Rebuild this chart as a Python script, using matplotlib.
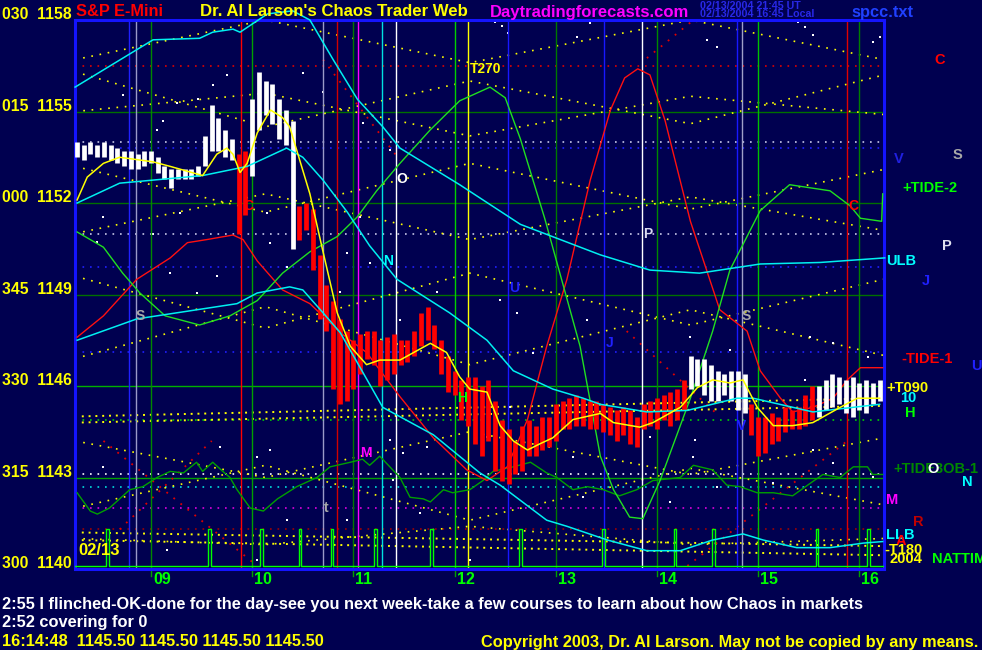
import numpy as np
import matplotlib.pyplot as plt
from matplotlib.transforms import blended_transform_factory

plt.rcParams['font.family'] = ['Liberation Sans', 'DejaVu Sans']
plt.rcParams['font.weight'] = 'bold'

W, H = 982, 650
BG = '#000050'

# ---- price bars: 4 minute bars starting 8:16 ----
bar_start = 8 + 16 / 60
bar_step = 4 / 60
bar_high = [1154.0, 1153.9, 1154.0, 1153.9, 1154.0, 1153.9, 1153.8, 1153.7, 1153.7, 1153.6,
            1153.7, 1153.7, 1153.5, 1153.2, 1153.1, 1153.1, 1153.1, 1153.1, 1153.2, 1154.2,
            1155.2, 1154.8, 1154.4, 1154.1, 1153.6, 1153.7, 1155.4, 1156.3, 1156.0, 1155.9,
            1155.4, 1155.05, 1154.7, 1151.9, 1152.0, 1151.8, 1150.3, 1149.3, 1148.8, 1148.2,
            1147.8, 1147.5, 1147.7, 1147.8, 1147.8, 1147.5, 1147.6, 1147.7, 1147.5, 1147.5,
            1147.8, 1148.4, 1148.6, 1148.0, 1147.5, 1147.0, 1146.5, 1146.2, 1146.3, 1146.3,
            1146.0, 1146.2, 1145.5, 1144.9, 1144.6, 1144.2, 1144.7, 1144.9, 1144.7, 1145.0,
            1145.0, 1145.4, 1145.5, 1145.6, 1145.7, 1145.6, 1145.5, 1145.5, 1145.4, 1145.3,
            1145.2, 1145.3, 1145.2, 1145.0, 1145.4, 1145.5, 1145.6, 1145.7, 1145.8, 1145.9,
            1146.2, 1147.0, 1146.9, 1146.9, 1146.7, 1146.5, 1146.4, 1146.5, 1146.5, 1146.4,
            1145.4, 1145.0, 1145.0, 1145.1, 1145.0, 1145.3, 1145.2, 1145.3, 1145.7, 1146.0,
            1146.0, 1146.2, 1146.4, 1146.3, 1146.2, 1146.3, 1146.1, 1146.2, 1146.1, 1146.2]
bar_low = [1153.5, 1153.4, 1153.6, 1153.5, 1153.5, 1153.4, 1153.3, 1153.2, 1153.1, 1153.1,
           1153.2, 1153.3, 1153.0, 1152.8, 1152.5, 1152.8, 1152.8, 1152.8, 1152.9, 1153.2,
           1153.7, 1153.7, 1153.5, 1153.4, 1151.0, 1151.6, 1152.9, 1154.4, 1154.9, 1154.6,
           1154.1, 1153.9, 1150.5, 1150.8, 1151.1, 1149.8, 1148.2, 1147.8, 1145.9, 1145.4,
           1145.5, 1145.9, 1146.4, 1146.9, 1146.7, 1146.0, 1146.2, 1146.4, 1146.7, 1146.8,
           1147.0, 1147.3, 1147.5, 1147.2, 1146.4, 1145.8, 1145.7, 1144.9, 1144.7, 1144.1,
           1143.7, 1144.2, 1143.2, 1142.9, 1142.8, 1143.1, 1143.2, 1143.7, 1143.7, 1143.9,
           1144.0, 1144.2, 1144.6, 1144.6, 1144.7, 1144.7, 1144.6, 1144.6, 1144.5, 1144.4,
           1144.2, 1144.4, 1144.1, 1144.0, 1144.6, 1144.7, 1144.6, 1144.9, 1144.7, 1144.9,
           1145.2, 1145.9, 1146.0, 1145.7, 1145.5, 1145.5, 1145.7, 1145.5, 1145.2, 1145.1,
           1144.4, 1143.7, 1143.8, 1144.1, 1144.2, 1144.5, 1144.6, 1144.6, 1144.7, 1144.9,
           1145.0, 1145.2, 1145.3, 1145.4, 1145.1, 1145.0, 1145.2, 1145.1, 1145.4, 1145.5]
bar_color = 'w' * 24 + 'rr' + 'w' * 7 + 'r' * 58 + 'w' * 9 + 'r' * 10 + 'w' * 10

# ---- moving average (yellow) ----
ma_x = [8.27, 8.37, 8.53, 8.69, 9.02, 9.19, 9.51, 9.65, 9.75, 9.81, 9.88, 9.95, 10.05, 10.18,
        10.30, 10.37, 10.47, 10.57, 10.70, 10.84, 10.97, 11.13, 11.26, 11.46, 11.76, 11.92,
        12.05, 12.15, 12.32, 12.45, 12.58, 12.72, 12.84, 12.97, 13.17, 13.44, 13.57, 13.83,
        13.96, 14.23, 14.40, 14.55, 14.72, 14.85, 14.99, 15.15, 15.34, 15.54, 15.81, 15.98, 16.20]
ma_y = [1152.1, 1152.85, 1153.3, 1153.5, 1153.35, 1153.2, 1152.9, 1153.6, 1153.8, 1153.6,
        1153.0, 1153.3, 1154.3, 1155.05, 1154.8, 1154.5, 1153.4, 1152.3, 1150.4, 1148.4,
        1147.3, 1146.7, 1146.85, 1146.85, 1147.4, 1147.1, 1146.3, 1145.9, 1145.8, 1144.7,
        1144.2, 1143.9, 1144.1, 1144.3, 1144.9, 1145.1, 1144.8, 1144.65, 1144.8, 1145.3,
        1145.95, 1146.2, 1146.1, 1146.2, 1145.3, 1144.7, 1144.7, 1144.8, 1145.3, 1145.6, 1145.6]

# ---- bands (cyan) ----
ulb_x = [8.25, 9.02, 9.48, 9.61, 9.81, 9.88, 10.15, 10.40, 10.57, 10.80, 11.04, 11.29, 11.46,
         12.05, 12.65, 13.44, 13.93, 14.42, 15.02, 15.61, 16.25]
ulb_y = [1155.8, 1157.35, 1157.4, 1157.6, 1157.7, 1157.6, 1158.2, 1158.3, 1158.0, 1156.7,
         1155.4, 1154.5, 1153.8, 1152.6, 1151.3, 1150.3, 1149.8, 1149.7, 1150.0, 1150.05, 1150.2]
mid_x = [8.27, 8.69, 9.51, 9.95, 10.34, 10.50, 10.70, 10.94, 11.16, 11.43, 11.95, 12.32, 12.58,
         12.97, 13.27, 13.44, 13.90, 14.30, 14.79, 14.95, 15.54, 16.20]
mid_y = [1152.0, 1152.65, 1152.9, 1153.2, 1153.8, 1153.5, 1152.75, 1151.7, 1150.6, 1149.5,
         1148.4, 1147.5, 1146.5, 1145.9, 1145.6, 1145.4, 1145.15, 1145.2, 1145.6, 1145.6,
         1145.15, 1145.4]
llb_x = [8.27, 8.86, 9.85, 10.05, 10.37, 10.50, 10.70, 10.87, 11.29, 11.79, 12.25, 12.45, 12.65,
         12.91, 13.11, 13.51, 13.90, 14.23, 14.55, 14.85, 15.05, 15.38, 15.71, 16.04, 16.23]
llb_y = [1147.5, 1148.2, 1148.7, 1149.05, 1149.25, 1149.15, 1148.4, 1147.75, 1145.3, 1144.4,
         1143.15, 1142.75, 1142.25, 1141.6, 1141.4, 1140.95, 1140.6, 1140.6, 1140.95, 1141.15,
         1140.95, 1140.7, 1140.7, 1140.85, 1140.9]

# ---- tides ----
tide1_x = [8.27, 8.53, 8.86, 9.19, 9.36, 9.55, 9.81, 9.91, 10.05, 10.30, 10.57, 10.87, 11.13,
           11.46, 11.79, 12.12, 12.32, 12.52, 12.72, 12.91, 13.11, 13.34, 13.54, 13.68, 13.81,
           13.93, 14.08, 14.33, 14.62, 14.89, 15.02, 15.22, 15.34, 15.54, 15.74, 15.88, 16.01, 16.23]
tide1_y = [1147.6, 1148.3, 1149.5, 1150.2, 1150.7, 1150.8, 1150.95, 1150.8, 1150.1, 1149.15,
           1148.7, 1147.75, 1147.1, 1145.65, 1144.3, 1143.25, 1142.9, 1143.35, 1144.9, 1147.3,
           1149.5, 1152.75, 1155.05, 1156.1, 1156.4, 1156.2, 1154.7, 1151.4, 1148.5, 1147.8,
           1146.5, 1145.6, 1145.15, 1145.3, 1145.6, 1146.2, 1146.6, 1146.6]
tide2_x = [8.27, 8.53, 8.72, 8.89, 9.14, 9.48, 9.78, 10.05, 10.30, 10.57, 10.84, 11.04, 11.23,
           11.46, 11.76, 12.05, 12.35, 12.50, 12.65, 12.89, 13.24, 13.44, 13.57, 13.73, 13.86,
           14.03, 14.33, 14.55, 14.72, 15.02, 15.31, 15.71, 15.91, 16.01, 16.22, 16.23]
tide2_y = [1151.05, 1150.55, 1149.7, 1149.05, 1148.3, 1148.0, 1148.3, 1148.8, 1149.7, 1150.4,
           1150.9, 1151.55, 1152.4, 1153.3, 1154.4, 1155.35, 1155.8, 1155.45, 1154.1, 1151.5,
           1147.3, 1143.7, 1142.6, 1141.7, 1141.65, 1142.9, 1145.6, 1147.8, 1149.8, 1151.75,
           1152.6, 1152.4, 1151.9, 1151.5, 1151.4, 1152.3]
tide3_x = [8.27, 8.40, 8.47, 8.59, 8.69, 8.79, 8.92, 9.06, 9.19, 9.32, 9.45, 9.51, 9.61, 9.71,
           9.78, 9.85, 9.98, 10.11, 10.25, 10.44, 10.64, 10.77, 10.97, 11.09, 11.16, 11.26,
           11.36, 11.46, 11.56, 11.69, 11.76, 11.89, 11.98, 12.15, 12.28, 12.38, 12.58, 12.75,
           12.91, 13.01, 13.17, 13.31, 13.47, 13.63, 13.80, 13.96, 14.23, 14.36, 14.55, 14.69,
           14.82, 14.99, 15.15, 15.34, 15.51, 15.64, 15.81, 15.94, 16.08, 16.13, 16.23]
tide3_y = [1142.5, 1141.9, 1141.8, 1142.0, 1142.3, 1142.6, 1142.7, 1143.0, 1143.2, 1143.15,
           1143.5, 1143.2, 1143.5, 1143.2, 1143.0, 1142.6, 1142.0, 1141.9, 1142.3, 1142.7,
           1143.0, 1143.35, 1143.5, 1143.6, 1143.4, 1143.7, 1143.35, 1143.0, 1142.35, 1142.3,
           1142.2, 1142.6, 1142.5, 1142.6, 1142.9, 1143.2, 1143.35, 1143.5, 1143.15, 1143.0,
           1142.6, 1142.7, 1142.6, 1142.4, 1142.6, 1142.9, 1143.0, 1143.4, 1143.25, 1142.75,
           1142.7, 1142.5, 1142.5, 1142.4, 1142.8, 1143.1, 1143.0, 1143.35, 1143.35, 1143.1, 1143.1]

# ---- nattime spikes ----
spike_hours = [8.57, 9.58, 10.09, 10.47, 10.79, 11.22, 11.77, 12.65, 13.47, 14.18, 14.56, 15.58, 16.09]
spike_base = 1140.1
spike_top = 1141.3

# ---- vertical event lines ----
vline_hours = [8.78, 8.85, 9.89, 10.70, 10.84, 11.05, 11.28, 11.42, 12.13, 12.53, 13.48, 13.85,
               14.79, 14.84, 15.88]
vline_colors = ['#2020ff', '#9a9ac8', '#ff0000', '#9a9ac8', '#d00000', '#ff00ff', '#00e0e0',
                '#ffffff', '#ffff00', '#1818ff', '#1818ff', '#ffffff', '#1818ff', '#a0a0c8', '#e00000']
hours = [9, 10, 11, 12, 13, 14, 15, 16]
hour_colors = ['#008800', '#00a000', '#007800', '#00d000', '#007800', '#008800', '#00c000', '#008000']

# ---- horizontal levels ----
grid_prices = [1155, 1152, 1149, 1146, 1143]
grid_colors = ['#007000', '#007000', '#007000', '#00b000', '#00a000']
hdot_prices = [1156.5, 1154.0, 1153.8, 1151.0, 1149.9, 1147.1, 1144.9, 1143.1, 1142.7, 1142.0, 1141.3]
hdot_colors = ['#e00000', '#c8c8e8', '#2020ff', '#c8c8e8', '#2020ff', '#2020ff', '#00d000',
               '#ffffff', '#00e0e0', '#e000e0', '#a00000']

# ---- yellow clamshell lines: price at common vertex times ----
fan_x = [8.249, 10.13, 12.15, 14.33, 16.243]
fan_lines = [
    [1156.7, 1158.0, 1156.6, 1158.0, 1156.7],
    [1156.3, 1154.5, 1156.0, 1154.6, 1156.2],
    [1155.0, 1155.6, 1154.2, 1155.5, 1154.9],
    [1153.2, 1151.7, 1153.3, 1151.8, 1153.1],
    [1151.0, 1152.3, 1150.8, 1152.2, 1151.1],
    [1149.6, 1147.9, 1149.7, 1148.0, 1149.5],
    [1146.9, 1148.6, 1146.7, 1148.5, 1147.0],
    [1144.2, 1143.0, 1144.5, 1143.1, 1144.3],
    [1142.0, 1143.4, 1141.6, 1143.3, 1142.1],
    [1141.0, 1140.8, 1141.4, 1140.8, 1141.0],
]
# near-flat yellow bands (start / end price)
band_x = [8.249, 16.243]
band_lines = [[1145.0, 1145.6], [1144.8, 1145.35], [1141.2, 1140.75], [1140.95, 1140.45]]

# ---- red dotted clamshell segments (x0, y0, x1, y1) ----
red_seg_x0 = [8.53, 8.69, 10.70, 13.70, 14.30, 13.90]
red_seg_y0 = [1144.2, 1141.3, 1156.7, 1147.8, 1140.1, 1156.75]
red_seg_x1 = [10.05, 9.60, 11.46, 14.62, 15.88, 14.36]
red_seg_y1 = [1140.1, 1144.2, 1153.4, 1145.0, 1144.2, 1158.0]

# ---- scattered white dots ----
dot_x = [9.75, 9.46, 9.61, 9.26, 8.72, 9.06, 9.12, 8.53, 9.29, 9.02, 8.47, 9.19, 9.45, 9.65,
         10.15, 10.18, 10.34, 10.94, 11.07, 11.16, 11.36, 10.50, 10.70, 11.09, 10.87, 11.46,
         11.83, 12.45, 12.62, 12.77, 13.31, 12.55, 11.36, 11.73, 12.32, 13.17, 11.39, 13.27,
         14.13, 14.59, 15.15, 15.54, 15.74, 16.13, 14.36, 12.40, 12.47, 12.53, 13.34, 13.21,
         14.49, 14.59, 15.39, 15.46, 15.54, 16.13, 16.20, 14.33, 15.51, 15.74, 16.08, 13.93,
         14.38, 15.46, 14.72, 10.05, 10.18, 9.68, 8.53, 11.49, 11.66, 10.94, 10.34, 9.16,
         10.05, 12.15]
dot_y = [1156.2, 1155.4, 1155.87, 1155.28, 1155.54, 1154.4, 1154.7, 1151.54, 1151.67, 1151.0,
         1150.72, 1149.7, 1149.05, 1149.6, 1151.67, 1150.7, 1149.9, 1150.36, 1151.54, 1150.03,
         1153.74, 1156.26, 1155.64, 1154.62, 1149.08, 1148.16, 1149.08, 1148.82, 1148.4,
         1147.08, 1148.16, 1145.31, 1144.23, 1144.0, 1144.33, 1143.67, 1142.92, 1142.36,
         1142.2, 1142.69, 1142.82, 1143.9, 1143.48, 1143.02, 1143.67, 1157.93, 1157.8,
         1157.57, 1157.9, 1157.44, 1157.35, 1157.1, 1157.93, 1157.77, 1157.51, 1157.28,
         1157.44, 1147.61, 1147.61, 1147.4, 1146.95, 1144.33, 1144.23, 1146.2, 1147.18,
         1143.67, 1143.9, 1144.0, 1143.35, 1143.8, 1141.84, 1141.6, 1141.6, 1140.62, 1140.3,
         1140.3]

# ---- labels ----
deg_labels = ['030', '015', '000', '345', '330', '315', '300']
price_levels = [1158, 1155, 1152, 1149, 1146, 1143, 1140]

fig = plt.figure(figsize=(W / 100, H / 100), dpi=100)
fig.patch.set_facecolor(BG)
ax = fig.add_axes([75 / W, 1 - 569 / H, (884 - 75) / W, (569 - 20) / H])
ax.set_facecolor(BG)
ax.set_xlim(8.249, 16.243)
ax.set_ylim(1140, 1158)
ax.set_xticks([])
ax.set_yticks([])
for s in ax.spines.values():
    s.set_color('#1414ff')
    s.set_linewidth(2.2)

# 横线
for p, c in zip(grid_prices, grid_colors):
    ax.axhline(p, color=c, lw=1.0, zorder=1)
for p, c in zip(hdot_prices, hdot_colors):
    ax.axhline(p, color=c, lw=1.2, ls=(0, (1, 3.5)), zorder=1)

# clamshell lines
for ln in fan_lines:
    ax.plot(fan_x, ln, color='#ffff00', lw=1.2, ls=(0, (1, 4)), zorder=1)
for ln in band_lines:
    ax.plot(band_x, ln, color='#ffff00', lw=1.4, ls=(0, (1, 2.5)), zorder=1)
for x0, y0, x1, y1 in zip(red_seg_x0, red_seg_y0, red_seg_x1, red_seg_y1):
    ax.plot([x0, x1], [y0, y1], color='#e00000', lw=1.3, ls=(0, (1, 4)), zorder=1)

# white dots
ax.scatter(dot_x, dot_y, s=2.5, marker='s', color='#ffffff', linewidths=0, zorder=1)

# vertical lines
for h, c in zip(hours, hour_colors):
    ax.axvline(h, color=c, lw=1.0, zorder=2)
for h, c in zip(vline_hours, vline_colors):
    ax.axvline(h, color=c, lw=1.0, zorder=2)

# spikes
sx, sy = [8.249], [spike_base]
for h in spike_hours:
    sx += [h - 0.012, h - 0.012, h + 0.012, h + 0.012]
    sy += [spike_base, spike_top, spike_top, spike_base]
sx.append(16.243)
sy.append(spike_base)
ax.plot(sx, sy, color='#00ff00', lw=1.0, zorder=3)

# tides
ax.plot(tide3_x, tide3_y, color='#00a000', lw=1.0, zorder=3)
ax.plot(tide1_x, tide1_y, color='#ff1010', lw=1.0, zorder=3)
ax.plot(tide2_x, tide2_y, color='#20e020', lw=1.0, zorder=3)

# bars
bx = bar_start + bar_step * np.arange(len(bar_high))
cols = ['#ffffff' if c == 'w' else '#ff0000' for c in bar_color]
ax.vlines(bx, bar_low, bar_high, colors=cols, lw=3.4, zorder=4)

# bands and MA
ax.plot(ulb_x, ulb_y, color='#00f0f0', lw=1.1, zorder=5, clip_on=False)
ax.plot(mid_x, mid_y, color='#00f0f0', lw=1.1, zorder=5)
ax.plot(llb_x, llb_y, color='#00f0f0', lw=1.1, zorder=5)
ax.plot(ma_x, ma_y, color='#ffff00', lw=1.1, zorder=6)

# labels inside plot
inside = [
    ('T270', 12.15, 1156.4, '#ffff00'), ('O', 11.42, 1152.8, '#ffffff'),
    ('P', 13.86, 1151.0, '#d8d8f0'), ('N', 11.29, 1150.1, '#00ffff'),
    ('U', 12.54, 1149.2, '#2020ff'), ('J', 13.49, 1147.4, '#2020ff'),
    ('S', 8.85, 1148.3, '#a8a8a8'), ('S', 14.84, 1148.3, '#a8a8a8'),
    ('C', 9.91, 1151.9, '#ff0000'), ('C', 15.89, 1151.9, '#ff0000'),
    ('H', 12.02, 1145.6, '#00ff00'), ('M', 11.07, 1143.8, '#ff00ff'),
    ('t', 10.71, 1142.0, '#a8a8a8'), ('V', 14.79, 1144.7, '#2020ff'),
]
for s, x, y, c in inside:
    ax.text(x, y, s, color=c, fontsize=10, ha='left', va='center', zorder=8)
ax.text(8.28, 1140.35, '02/13', color='#ffff00', fontsize=12, ha='left', va='bottom', zorder=8)


def ftxt(px, py, s, color, size=11, **kw):
    fig.text(px / W, 1 - py / H, s, color=color, fontsize=size, ha='left', va='center', **kw)


# y axis labels
trans = blended_transform_factory(fig.transFigure, ax.transData)
for d, p in zip(deg_labels, price_levels):
    fig.text(72 / W, p + 0.03, d + '  ' + str(p), color='#ffff00', fontsize=11.3,
             ha='right', va='baseline', transform=trans)

# x axis labels
for h in hours:
    ax.text(h + 0.02, -0.006, '%02d' % h, color='#00ff00', fontsize=11.5, ha='left', va='top',
            transform=ax.get_xaxis_transform())
    ax.plot([h, h], [-0.012, 0], color='#00a000', lw=1, transform=ax.get_xaxis_transform(),
            clip_on=False)

# header
ftxt(76, 12, 'S&P E-Mini', '#ff0000', 11.8)
ftxt(200, 12, "Dr. Al Larson's Chaos Trader Web", '#ffff00', 12.1)
ftxt(490, 12, 'Daytradingforecasts.com', '#ff00ff', 12)
ftxt(700, 6, '02/13/2004 21:45 UT', '#2828e8', 7.7)
ftxt(700, 14, '02/13/2004 16:45 Local', '#2828e8', 7.7)
ftxt(851, 12, 'spcc.txt', '#2040ff', 11.8)

# right side labels
right = [
    ('C', 934, 60, '#ff0000'), ('V', 894, 159, '#2020e0'), ('S', 953, 155, '#a8a8a8'),
    ('+TIDE-2', 902, 188, '#00ff00'), ('P', 942, 246, '#e0e0f0'), ('ULB', 886, 261, '#00ffff'),
    ('J', 922, 281, '#2020ff'), ('-TIDE-1', 901, 359, '#ff0000'), ('U', 971, 366, '#2020ff'),
    ('+T090', 886, 388, '#ffff00'), ('10', 900, 398, '#00ffff'), ('H', 905, 413, '#00ff00'),
    ('+TIDE3OB-1', 893, 469, '#008800'), ('N', 962, 482, '#00ffff'), ('M', 886, 500, '#ff00ff'),
    ('R', 913, 522, '#c00000'), ('LLB', 886, 535, '#00ffff'), ('A', 896, 541, '#ff0000'),
    ('-T180', 884, 550, '#ffff00'), ('2004', 889, 559, '#ffff00'), ('NATTIME', 932, 559, '#00ff00'),
]
for s, x, y, c in right:
    ftxt(x, y, s, c, 10.5)
ftxt(927, 469, 'O', '#ffffff', 10.5)

# footer
ftxt(2, 604, '2:55 I flinched-OK-done for the day-see you next week-take a few courses to learn about how Chaos in markets', '#ffffff', 11.8)
ftxt(2, 623, '2:52 covering for 0', '#ffffff', 11.8)
ftxt(2, 642, '16:14:48  1145.50 1145.50 1145.50 1145.50', '#ffff00', 11.8)
ftxt(481, 642, 'Copyright 2003, Dr. Al Larson. May not be copied by any means.', '#ffff00', 11.8)

fig.savefig('out.png', dpi=100, facecolor=BG)
